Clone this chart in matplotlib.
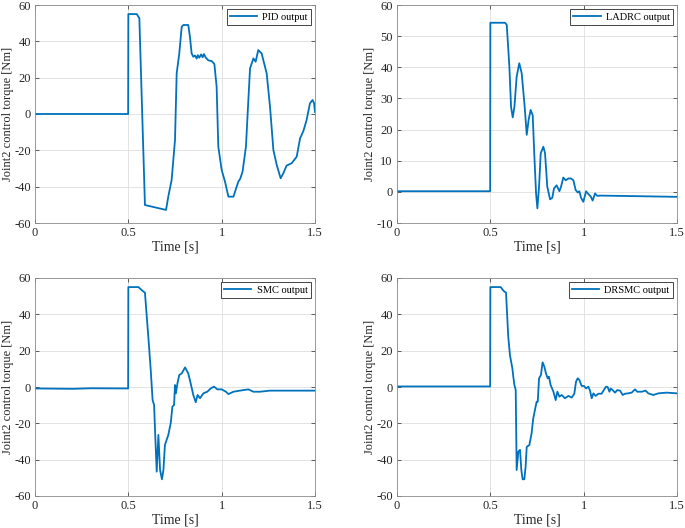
import matplotlib
matplotlib.use('Agg')
import matplotlib.pyplot as plt

# traced curves (time [s], torque [Nm])
pid_t = [0, 0.499, 0.5, 0.545, 0.559, 0.589, 0.702, 0.714, 0.732, 0.75, 0.759, 0.773,
         0.786, 0.795, 0.821, 0.830, 0.839, 0.848, 0.857, 0.866, 0.872, 0.880, 0.890,
         0.898, 0.905, 0.915, 0.929, 0.946, 0.961, 0.973, 0.982, 1.0, 1.018, 1.036,
         1.063, 1.089, 1.100, 1.112, 1.13, 1.143, 1.152, 1.17, 1.182, 1.196, 1.214,
         1.241, 1.259, 1.277, 1.295, 1.316, 1.330, 1.348, 1.375, 1.402, 1.42, 1.438,
         1.455, 1.473, 1.487, 1.495, 1.5]
pid_y = [0, 0, 55, 55, 52.7, -50.1, -52.8, -45.5, -36.3, -14.3, 22.4, 33.4,
         48.1, 49, 49, 42.6, 33.4, 31.5, 32.2, 30.5, 32.4, 31.0, 32.8,
         31.2, 33.0, 31.0, 29.5, 29.2, 27.5, 15.0, -18, -30.8, -37.3, -45.5,
         -45.5, -37.3, -35.5, -31.7, -18, 7.7, 25.1, 30.6, 28.8, 35.2, 33.4,
         22.4, 4.0, -19.8, -28.1, -35.4, -32.7, -28.4, -27.1, -23.5, -13.4, -9.3,
         -3.3, 5.9, 7.7, 6.0, 1]

ladrc_t = [0, 0.499, 0.5, 0.579, 0.588, 0.602, 0.611, 0.620, 0.629, 0.641, 0.655,
           0.668, 0.684, 0.695, 0.705, 0.716, 0.727, 0.736, 0.745, 0.752, 0.761,
           0.770, 0.784, 0.793, 0.805, 0.820, 0.832, 0.841, 0.855, 0.870, 0.879,
           0.891, 0.904, 0.918, 0.932, 0.945, 0.957, 0.968, 0.977, 0.986, 0.998,
           1.013, 1.025, 1.038, 1.048, 1.061, 1.073, 1.088, 1.3, 1.5]
ladrc_y = [0.2, 0.2, 54.3, 54.3, 53.6, 40.2, 27.3, 23.9, 27.3, 37.0, 41.3,
           38.1, 27.3, 18.3, 23.1, 26.3, 24.6, 11.3, -0.5, -5.3, 1.7,
           12.4, 14.5, 12.4, 1.7, -2.4, -1.9, 1.1, 2.1, 0.2, 1.7,
           4.6, 3.7, 4.3, 4.3, 3.7, 0.6, -0.2, 0.2, -1.9, -3.2,
           0.2, -0.7, -1.5, -2.8, -0.5, -1.3, -1.2, -1.4, -1.6]

smc_t = [0, 0.2, 0.3, 0.499, 0.5, 0.554, 0.571, 0.589, 0.607, 0.620, 0.630, 0.638,
         0.643, 0.652, 0.661, 0.670, 0.680, 0.688, 0.696, 0.714, 0.727, 0.736,
         0.745, 0.75, 0.755, 0.763, 0.773, 0.786, 0.804, 0.821, 0.834, 0.848,
         0.861, 0.871, 0.884, 0.902, 0.923, 0.941, 0.959, 0.977, 1.0, 1.023,
         1.036, 1.063, 1.098, 1.143, 1.170, 1.205, 1.259, 1.348, 1.5]
smc_y = [-0.8, -1.0, -0.7, -0.8, 55, 55, 53.4, 51.9, 27.7, 9.4, -7.2, -9.9,
         -23.7, -46.6, -26.4, -45.7, -50.8, -45.7, -31.9, -26.4, -20, -10.8,
         -9.9, 1.1, -3.5, 2.0, 6.6, 7.5, 10.8, 7.5, 2.0, -4.4,
         -8.4, -4.4, -6.2, -3.5, -2.6, -0.8, 0.2, -1.3, -1.3, -2.6,
         -3.9, -2.6, -2.0, -1.3, -2.6, -2.6, -2.0, -2.0, -2.0]

drsmc_t = [0, 0.499, 0.5, 0.556, 0.570, 0.584, 0.596, 0.605, 0.618, 0.623, 0.629,
           0.636, 0.641, 0.650, 0.659, 0.666, 0.673, 0.682, 0.689, 0.695, 0.709,
           0.721, 0.730, 0.739, 0.748, 0.754, 0.761, 0.771, 0.780, 0.789, 0.798,
           0.807, 0.814, 0.823, 0.838, 0.850, 0.859, 0.870, 0.882, 0.900, 0.918,
           0.936, 0.950, 0.959, 0.968, 0.977, 0.989, 1.002, 1.013, 1.025, 1.034,
           1.043, 1.052, 1.064, 1.079, 1.096, 1.109, 1.120, 1.129, 1.138, 1.145,
           1.155, 1.168, 1.180, 1.195, 1.209, 1.221, 1.239, 1.257, 1.275, 1.287,
           1.311, 1.332, 1.346, 1.373, 1.400, 1.445, 1.5]
drsmc_y = [0.3, 0.3, 55, 55, 53, 51.9, 27.7, 17.6, 10.3, 5.7, 1.1,
           -1.7, -45.7, -35.6, -34.6, -45.7, -50.8, -50.8, -43.9, -32.9, -32.0,
           -25.5, -17.2, -12.6, -8.1, -8.1, 4.8, 6.6, 13.6, 11.3, 7.5,
           4.8, 5.7, 1.1, -2.6, -7.2, -2.6, -5.3, -4.4, -6.2, -4.9,
           -5.8, -3.7, 2.9, 4.8, 3.9, 0.6, 0.6, -0.8, 0.2, -2.0,
           -6.2, -3.5, -4.9, -3.7, -3.7, -1.5, 0.2, -0.1, -2.6, -0.8,
           -1.7, -3.1, -1.7, -2.0, -4.4, -3.7, -3.5, -3.1, -1.3, -2.6,
           -2.6, -2.0, -3.5, -4.4, -3.5, -3.1, -3.5]

panels = [
    ('PID output', pid_t, pid_y, (-60, 60), [-60, -40, -20, 0, 20, 40, 60]),
    ('LADRC output', ladrc_t, ladrc_y, (-10, 60), [-10, 0, 10, 20, 30, 40, 50, 60]),
    ('SMC output', smc_t, smc_y, (-60, 60), [-60, -40, -20, 0, 20, 40, 60]),
    ('DRSMC output', drsmc_t, drsmc_y, (-60, 60), [-60, -40, -20, 0, 20, 40, 60]),
]

plt.rcParams['font.family'] = 'Liberation Serif'

W, H = 685, 528
fig = plt.figure(figsize=(W / 100, H / 100), dpi=100)

# axes boxes in pixels: left, top, right, bottom, ylabel right edge x
boxes = [(35, 5, 315, 223, 14), (397, 5, 677, 223, 376),
         (35, 278, 315, 496, 14), (397, 278, 677, 496, 376)]
axis_col = '#262626'

for (label, t, y, ylim, yticks), (l, tp, r, b, lx) in zip(panels, boxes):
    ax = fig.add_axes([l / W, 1 - b / H, (r - l) / W, (b - tp) / H])
    ax.plot(t, y, color='#0072BD', linewidth=1.3, label=label)
    ax.set_xlim(0, 1.5)
    ax.set_ylim(*ylim)
    ax.set_xticks([0, 0.5, 1, 1.5])
    ax.set_xticklabels(['0', '0.5', '1', '1.5'])
    ax.set_yticks(yticks)
    ax.set_yticklabels([str(v) for v in yticks])
    ax.grid(True, color='#dedede', linewidth=0.6)
    ax.set_axisbelow(True)
    ax.tick_params(direction='in', length=3, width=0.5, top=True, right=True,
                   labelsize=9, colors=axis_col, pad=3)
    for s in ax.spines.values():
        s.set_color('#8c8c8c')
        s.set_linewidth(0.6)
    ax.set_xlabel('Time [s]', fontsize=10, color=axis_col, labelpad=1)
    ax.set_ylabel('Joint2 control torque [Nm]', fontsize=9, color=axis_col)
    ax.yaxis.set_label_coords((lx - l) / (r - l), 0.5)
    leg = ax.legend(loc='upper right', fontsize=7.5, fancybox=False, framealpha=1,
                    edgecolor='#262626', borderpad=0.3, handlelength=2.6,
                    handletextpad=0.5, borderaxespad=0.4)
    leg.get_frame().set_linewidth(0.6)

fig.savefig('out.png', dpi=100)
